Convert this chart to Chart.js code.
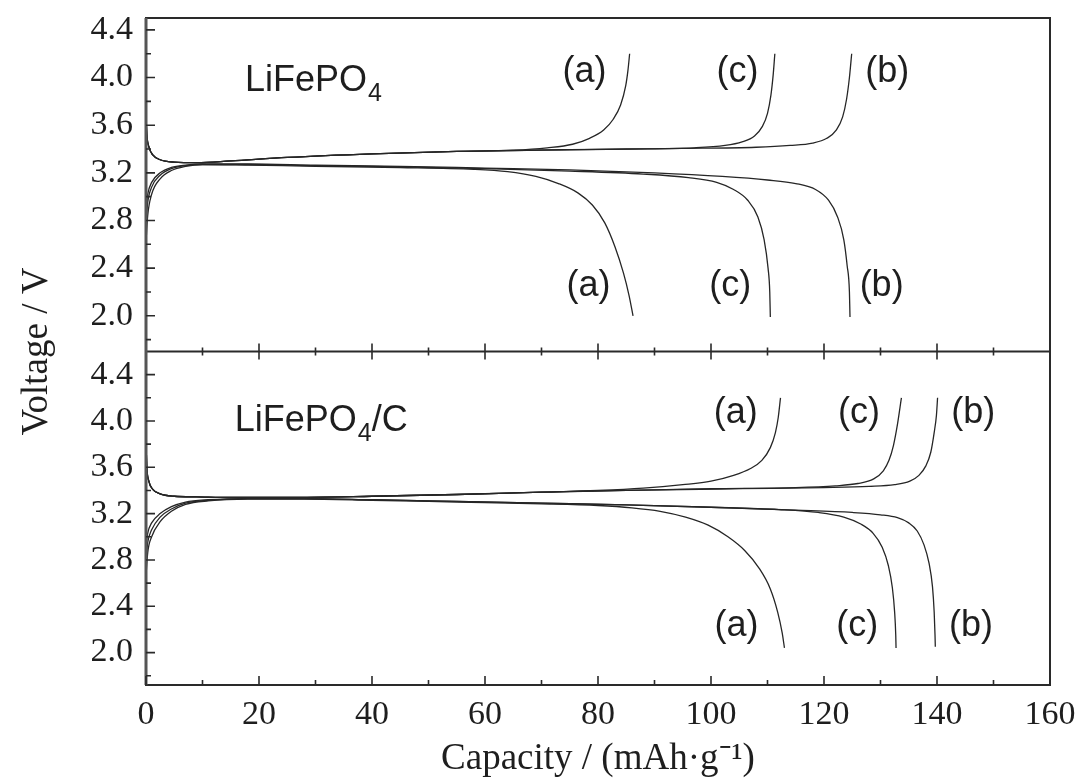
<!DOCTYPE html>
<html>
<head>
<script src="https://cdn.jsdelivr.net/npm/chart.js@4/dist/chart.umd.min.js"></script>
<style>
  html, body { margin: 0; padding: 0; background: #fff; }
  #wrap { position: relative; width: 1086px; height: 781px; }
</style>
</head>
<body>
<div id="wrap"><canvas id="vChart" width="1086" height="781"></canvas></div>
<script>
// [capacity mAh/g, voltage V]

// upper panel: LiFePO4
const topChargeStart = [[0,3.68],[0.15,3.52],[0.5,3.42],[1.2,3.35],[2.5,3.31],[5,3.29],[9,3.285],[15,3.30],[25,3.33],[40,3.36],[55,3.38]];
const topChargeA = topChargeStart.concat([[65,3.39],[71,3.41],[75.5,3.44],[78.5,3.49],[81,3.56],[82.7,3.65],[84,3.77],[84.9,3.93],[85.3,4.06],[85.6,4.2]]);
const topChargeC = topChargeStart.concat([[70,3.39],[85,3.40],[97,3.41],[102.5,3.43],[105.5,3.46],[107.7,3.51],[109.1,3.59],[110,3.70],[110.6,3.85],[111,4.02],[111.3,4.2]]);
const topChargeB = topChargeStart.concat([[75,3.395],[95,3.405],[108,3.415],[114,3.43],[118,3.45],[120.5,3.49],[122.2,3.56],[123.3,3.67],[124,3.82],[124.5,4.0],[124.9,4.2]]);
const topDischA = [[0,2.62],[0.3,2.84],[1,3.02],[2.5,3.15],[4.5,3.22],[7,3.255],[10,3.27],[18,3.265],[30,3.255],[45,3.245],[58,3.23],[64,3.21],[69,3.17],[73,3.11],[76.5,3.03],[79,2.93],[81.2,2.78],[83,2.58],[84.5,2.36],[85.5,2.17],[86.2,2.0]];
const topDischC = [[0,2.78],[0.3,2.95],[1,3.08],[2.5,3.18],[4.5,3.235],[7,3.26],[10,3.27],[18,3.27],[30,3.26],[45,3.25],[60,3.235],[75,3.215],[88,3.19],[96,3.16],[101,3.12],[104,3.06],[106.5,2.97],[108.3,2.83],[109.4,2.64],[110.1,2.4],[110.4,2.2],[110.5,1.99]];
const topDischB = [[0,2.9],[0.3,3.02],[1,3.12],[2.5,3.2],[4.5,3.245],[7,3.265],[10,3.275],[18,3.275],[30,3.265],[45,3.255],[60,3.24],[75,3.225],[90,3.2],[102,3.17],[110,3.14],[115,3.11],[118.5,3.06],[120.8,2.97],[122.4,2.83],[123.5,2.64],[124.1,2.42],[124.5,2.2],[124.6,1.99]];

// lower panel: LiFePO4/C
const botChargeStart = [[0,3.82],[0.15,3.6],[0.5,3.48],[1.2,3.41],[2.5,3.37],[5,3.35],[9,3.345],[15,3.34],[25,3.34],[40,3.35],[55,3.365],[70,3.385]];
const botChargeA = botChargeStart.concat([[80,3.40],[88,3.42],[95,3.45],[100,3.48],[104,3.53],[107,3.59],[109,3.66],[110.5,3.77],[111.4,3.9],[111.9,4.03],[112.3,4.2]]);
const botChargeC = botChargeStart.concat([[85,3.40],[100,3.415],[115,3.425],[122,3.44],[126,3.46],[128.8,3.5],[130.5,3.57],[131.5,3.66],[132.3,3.79],[133,3.97],[133.7,4.2]]);
const botChargeB = botChargeStart.concat([[85,3.40],[105,3.415],[120,3.425],[128,3.435],[132.5,3.45],[135.2,3.48],[136.8,3.53],[138,3.61],[138.9,3.73],[139.5,3.9],[139.9,4.05],[140.1,4.2]]);
const botDischA = [[0,2.66],[0.3,2.86],[1,3.0],[2.5,3.13],[4.5,3.22],[7,3.28],[11,3.31],[18,3.325],[28,3.325],[40,3.315],[55,3.3],[70,3.285],[80,3.27],[86,3.25],[91,3.22],[95.5,3.17],[99.5,3.1],[103,3.0],[106,2.88],[108.5,2.73],[110.5,2.55],[111.8,2.35],[112.6,2.17],[113,2.04]];
const botDischC = [[0,2.8],[0.3,2.95],[1,3.06],[2.5,3.17],[4.5,3.24],[7,3.29],[11,3.315],[18,3.33],[28,3.33],[40,3.32],[55,3.305],[70,3.29],[85,3.275],[100,3.255],[112,3.235],[119,3.21],[123.5,3.17],[126.5,3.11],[128.7,3.03],[130.3,2.91],[131.4,2.75],[132.1,2.56],[132.5,2.35],[132.7,2.15],[132.75,2.04]];
const botDischB = [[0,2.92],[0.3,3.03],[1,3.12],[2.5,3.2],[4.5,3.26],[7,3.3],[11,3.32],[18,3.33],[28,3.33],[40,3.32],[55,3.305],[70,3.29],[85,3.275],[100,3.255],[115,3.23],[125,3.21],[130,3.19],[133,3.165],[135,3.12],[136.5,3.05],[137.7,2.93],[138.6,2.77],[139.2,2.57],[139.5,2.35],[139.65,2.15],[139.7,2.05]];

// ticks
const xTickVals = [0, 20, 40, 60, 80, 100, 120, 140, 160];
const xMinorVals = [10, 30, 50, 70, 90, 110, 130, 150];
const yTickVals = [2.0, 2.4, 2.8, 3.2, 3.6, 4.0, 4.4];
const yMinorVals = [1.8, 2.2, 2.6, 3.0, 3.4, 3.8, 4.2];

// curve labels
const labelText = ['(a)', '(c)', '(b)', '(a)', '(c)', '(b)'];
const topLabelCap = [77.6, 104.7, 131.2, 78.3, 103.4, 130.2];
const topLabelV = [4.05, 4.05, 4.05, 2.25, 2.25, 2.25];
const botLabelCap = [104.4, 126.2, 146.4, 104.5, 125.9, 146.0];
const botLabelV = [4.07, 4.07, 4.07, 2.23, 2.23, 2.23];

const serif = "'Liberation Serif', 'Times New Roman', serif";
const sans = "'Liberation Sans', Arial, sans-serif";
const ink = '#1e1e1e';

function pts(arr) {
  return arr.map(p => ({ x: p[0], y: p[1] }));
}
function curve(arr, axis) {
  return { data: pts(arr), yAxisID: axis };
}

const datasets = [
  curve(topChargeA, 'yTop'), curve(topChargeC, 'yTop'), curve(topChargeB, 'yTop'),
  curve(topDischA, 'yTop'), curve(topDischC, 'yTop'), curve(topDischB, 'yTop'),
  curve(botChargeA, 'yBot'), curve(botChargeC, 'yBot'), curve(botChargeB, 'yBot'),
  curve(botDischA, 'yBot'), curve(botDischC, 'yBot'), curve(botDischB, 'yBot'),
];

function noPad(s) {
  s.paddingTop = 0; s.paddingBottom = 0; s.paddingLeft = 0; s.paddingRight = 0;
}

function yAxis(min, max) {
  return {
    type: 'linear',
    position: 'left',
    stack: 'v',
    stackWeight: 1,
    min: min,
    max: max,
    grid: { display: false, drawTicks: false },
    border: { display: false },
    afterBuildTicks: s => { s.ticks = yTickVals.map(v => ({ value: v })); },
    afterFit: s => { s.width = 146; noPad(s); },
    ticks: {
      autoSkip: false,
      padding: 13,
      color: ink,
      font: { family: serif, size: 34 },
      callback: v => v.toFixed(1),
    },
  };
}

// frame, inward ticks and text labels
const framePlugin = {
  id: 'frame',
  afterDatasetsDraw(chart) {
    const { ctx, chartArea: a, scales } = chart;
    const yt = scales.yTop, yb = scales.yBot, x = scales.x;
    const mid = yt.bottom;
    ctx.save();
    ctx.strokeStyle = '#2a2a2a';
    ctx.lineWidth = 2;
    ctx.strokeRect(a.left, a.top, a.right - a.left, a.bottom - a.top);
    ctx.beginPath();
    ctx.moveTo(a.left, mid);
    ctx.lineTo(a.right, mid);
    ctx.stroke();
    // left axis is drawn heavier in the original
    ctx.strokeStyle = '#555';
    ctx.lineWidth = 3;
    ctx.beginPath();
    ctx.moveTo(a.left, a.top);
    ctx.lineTo(a.left, a.bottom);
    ctx.stroke();

    ctx.strokeStyle = '#2a2a2a';
    ctx.lineWidth = 1.6;
    ctx.beginPath();
    [yt, yb].forEach(s => {
      yTickVals.forEach(v => {
        const p = s.getPixelForValue(v);
        ctx.moveTo(a.left, p); ctx.lineTo(a.left + 9, p);
      });
      yMinorVals.forEach(v => {
        const p = s.getPixelForValue(v);
        if (p > s.top + 2 && p < s.bottom - 2) { ctx.moveTo(a.left, p); ctx.lineTo(a.left + 5, p); }
      });
    });
    xTickVals.forEach(v => {
      const p = x.getPixelForValue(v);
      ctx.moveTo(p, a.bottom); ctx.lineTo(p, a.bottom - 9);
      if (v > 0 && v < 160) { ctx.moveTo(p, mid - 8); ctx.lineTo(p, mid + 8); }
    });
    xMinorVals.forEach(v => {
      const p = x.getPixelForValue(v);
      ctx.moveTo(p, a.bottom); ctx.lineTo(p, a.bottom - 5);
      ctx.moveTo(p, mid - 4); ctx.lineTo(p, mid + 4);
    });
    ctx.stroke();

    // curve labels
    ctx.fillStyle = ink;
    ctx.font = '36px ' + sans;
    ctx.textAlign = 'center';
    ctx.textBaseline = 'middle';
    labelText.forEach((t, i) => {
      ctx.fillText(t, x.getPixelForValue(topLabelCap[i]), yt.getPixelForValue(topLabelV[i]));
      ctx.fillText(t, x.getPixelForValue(botLabelCap[i]), yb.getPixelForValue(botLabelV[i]));
    });

    // panel names
    function formula(cap, v, s, tail) {
      let px = x.getPixelForValue(cap);
      const py = s.getPixelForValue(v);
      ctx.textAlign = 'left';
      ctx.font = '36px ' + sans;
      ctx.fillText('LiFePO', px, py);
      px += ctx.measureText('LiFePO').width;
      ctx.font = '25px ' + sans;
      ctx.fillText('4', px + 1, py + 13);
      px += ctx.measureText('4').width + 1;
      if (tail) {
        ctx.font = '36px ' + sans;
        ctx.fillText(tail, px, py);
      }
    }
    formula(17.5, 3.97, yt, '');
    formula(15.7, 4.0, yb, '/C');

    // y axis title
    ctx.translate(37, (a.top + a.bottom) / 2);
    ctx.rotate(-Math.PI / 2);
    ctx.textAlign = 'center';
    ctx.font = '37px ' + serif;
    ctx.fillText('Voltage / V', 0, 0);
    ctx.restore();
  }
};

new Chart(document.getElementById('vChart'), {
  type: 'line',
  data: { datasets: datasets },
  options: {
    responsive: false,
    animation: false,
    layout: { padding: { top: 18, right: 36, left: 0, bottom: 0 } },
    plugins: { legend: { display: false }, tooltip: { enabled: false } },
    elements: {
      point: { radius: 0 },
      line: { borderWidth: 1.3, borderColor: '#262626', cubicInterpolationMode: 'monotone', fill: false },
    },
    scales: {
      x: {
        type: 'linear',
        min: 0,
        max: 160,
        grid: { display: false, drawTicks: false },
        border: { display: false },
        afterBuildTicks: s => { s.ticks = xTickVals.map(v => ({ value: v })); },
        afterFit: s => { s.height = 96; noPad(s); },
        ticks: { autoSkip: false, padding: 10, color: ink, maxRotation: 0, font: { family: serif, size: 34 } },
        title: {
          display: true,
          text: 'Capacity / (mAh·g⁻¹)',
          color: ink,
          padding: { top: 0, bottom: 0 },
          font: { family: serif, size: 37 },
        },
      },
      yBot: yAxis(1.72, 4.6),
      yTop: yAxis(1.7, 4.5),
    },
  },
  plugins: [framePlugin],
});
</script>
</body>
</html>
